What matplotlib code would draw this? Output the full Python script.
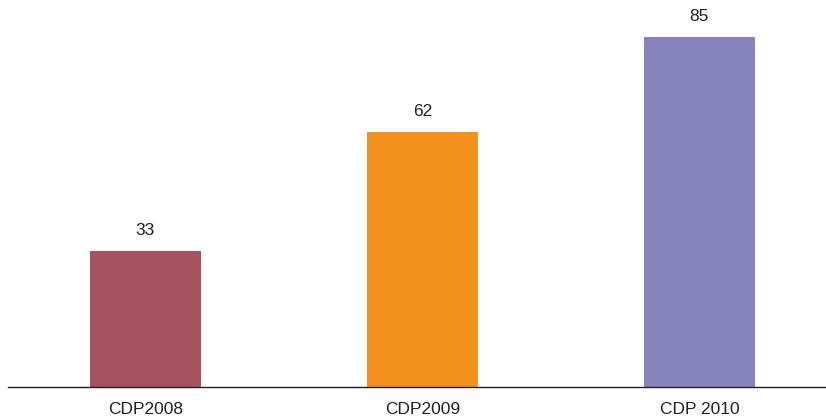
import matplotlib
matplotlib.use("Agg")
import matplotlib.pyplot as plt

categories = ["CDP2008", "CDP2009", "CDP 2010"]
values = [33, 62, 85]
colors = ["#A6535F", "#F5921E", "#8682BC"]

plt.rcParams['font.family'] = ['Liberation Sans', 'DejaVu Sans']
text_color = "#231F20"

fig = plt.figure(figsize=(8.26, 4.18), dpi=100)
ax = fig.add_axes([8/826, 31/418, 818/826, 387/418])
x = list(range(len(categories)))
bars = ax.bar(x, values, width=0.40, color=colors)
ax.set_xlim(-0.496, 2.457)
ax.set_ylim(0, 94)
for xi, v in zip(x, values):
    ax.annotate(str(v), (xi, v), xytext=(0, 14.5), textcoords="offset points",
                ha="center", va="center", fontsize=12.5, color=text_color)
ax.set_xticks(x)
ax.set_xticklabels(categories, fontsize=12.5, color=text_color)
ax.tick_params(axis='x', length=0, pad=11)
ax.set_yticks([])
for s in ["top", "right", "left"]:
    ax.spines[s].set_visible(False)
ax.spines["bottom"].set_color("#231F20")
ax.spines["bottom"].set_linewidth(1.0)
fig.savefig("out.png", dpi=100)
